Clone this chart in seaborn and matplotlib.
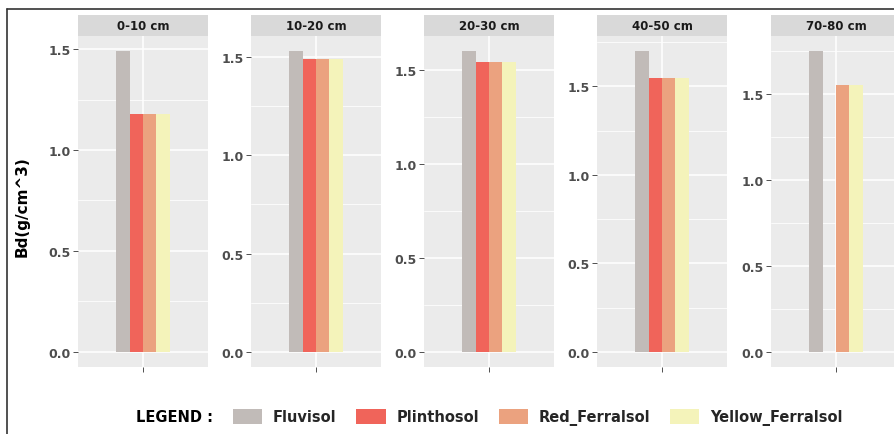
import numpy as np
import pandas as pd
import seaborn as sns
from matplotlib import pyplot as plt
from matplotlib.lines import Line2D
from matplotlib.ticker import MultipleLocator

# values
depths = ["0-10 cm", "10-20 cm", "20-30 cm", "40-50 cm", "70-80 cm"]
soils = ["Fluvisol", "Plinthosol", "Red_Ferralsol", "Yellow_Ferralsol"]
fluvisol = [1.49, 1.53, 1.60, 1.70, 1.75]
plinthosol = [1.18, 1.49, 1.54, 1.55, np.nan]
red_ferralsol = [1.18, 1.49, 1.54, 1.55, 1.55]
yellow_ferralsol = [1.18, 1.49, 1.54, 1.55, 1.55]
soil_colors = ["#C1BBB8", "#F0645A", "#EBA27F", "#F4F3BA"]

rows = []
for soil, vals in zip(soils, [fluvisol, plinthosol, red_ferralsol, yellow_ferralsol]):
    for depth, v in zip(depths, vals):
        rows.append([depth, soil, v])
df = pd.DataFrame(rows, columns=["Depth", "Soil", "Bd"])
df["x"] = ""

sns.set_style("white")
plt.rcParams["font.family"] = ["DejaVu Sans"]
plt.rcParams["font.weight"] = "bold"

W, H = 894, 435
fig = plt.figure(figsize=(W / 100, H / 100), dpi=100)

panel_left = [78, 251, 424, 597, 771]
panel_w = 130
p_top, p_bot = 37, 368
s_top = 16

handles = None
for i, depth in enumerate(depths):
    x0 = panel_left[i]
    ax = fig.add_axes([x0 / W, 1 - p_bot / H, panel_w / W, (p_bot - p_top) / H])
    sub = df[df["Depth"] == depth]
    sns.barplot(data=sub, x="x", y="Bd", hue="Soil", hue_order=soils,
                palette=soil_colors, saturation=1, width=0.49, linewidth=0,
                ax=ax, legend=(i == 0))
    if i == 0:
        handles, labels = ax.get_legend_handles_labels()
        ax.get_legend().remove()
    top = sub["Bd"].max()
    ax.set_facecolor("#EBEBEB")
    for s in ax.spines.values():
        s.set_visible(False)
    ax.yaxis.set_major_locator(MultipleLocator(0.5))
    ax.yaxis.set_minor_locator(MultipleLocator(0.25))
    ax.grid(which="major", color="white", lw=1.1)
    ax.grid(which="minor", axis="y", color="white", lw=0.55)
    ax.set_axisbelow(True)
    ax.tick_params(axis="both", which="major", bottom=True, left=True,
                   length=3.5, width=0.6, color="#333333",
                   labelsize=9, labelcolor="#4D4D4D", pad=2)
    ax.tick_params(which="minor", length=0)
    ax.set_ylim(-0.05 * top, 1.05 * top)
    ax.set_xlim(-0.6, 0.6)
    ax.yaxis.set_major_formatter(lambda v, p: f"{v:.1f}")
    ax.set_xlabel("")
    ax.set_ylabel("")

    # facet strip
    sax = fig.add_axes([x0 / W, 1 - p_top / H, panel_w / W, (p_top - s_top) / H])
    sax.set_facecolor("#D9D9D9")
    sax.set_xticks([])
    sax.set_yticks([])
    for s in sax.spines.values():
        s.set_visible(False)
    sax.text(0.5, 0.5, depth, ha="center", va="center", fontsize=8.5,
             fontweight="bold", color="#1A1A1A", transform=sax.transAxes)

fig.text(22 / W, 1 - 207 / H, "Bd(g/cm^3)", rotation=90, ha="center", va="center",
         fontsize=11, fontweight="bold", color="black")

fig.legend(handles, labels, loc="center left", bbox_to_anchor=(233 / W, 1 - 418 / H),
           ncol=4, frameon=False, handlelength=2.0, handleheight=1.25,
           handletextpad=0.75, columnspacing=1.35, borderpad=0, borderaxespad=0,
           prop={"weight": "bold", "size": 10.5})
fig.text(174 / W, 1 - 418 / H, "LEGEND :", ha="center", va="center",
         fontsize=10.5, fontweight="bold", color="black")

# outer frame of the cropped picture
fig.add_artist(Line2D([7 / W, 7 / W], [0, 1 - 10 / H], color="#333333", lw=1.2))
fig.add_artist(Line2D([7 / W, 1], [1 - 10 / H, 1 - 10 / H], color="#333333", lw=1.2))

fig.savefig("out.png", dpi=100)
